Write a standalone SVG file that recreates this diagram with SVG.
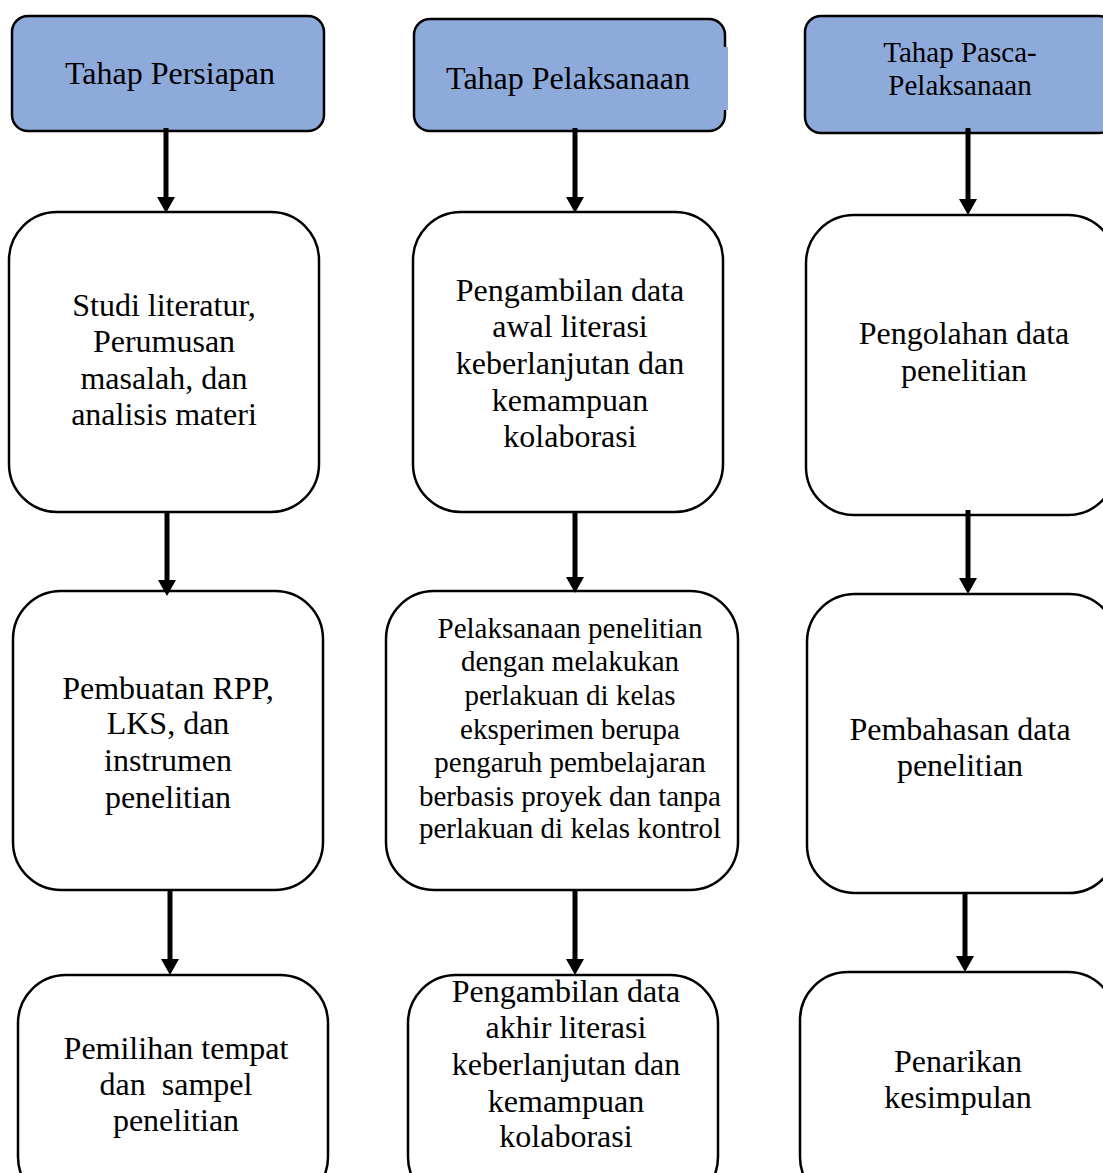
<svg xmlns="http://www.w3.org/2000/svg" width="1103" height="1173" viewBox="0 0 1103 1173">
<style>
.hdr{fill:#8eaadb;stroke:#000;stroke-width:2.5}
.box{fill:#fff;stroke:#000;stroke-width:2.5}
text{font-family:"Liberation Serif","Times New Roman",serif;fill:#000;text-anchor:middle}
.t29{font-size:32px}
.t26{font-size:29px}
.arr{stroke:#000;stroke-width:5;fill:none;marker-end:url(#ah)}
</style>
<defs>
<marker id="ah" markerUnits="userSpaceOnUse" markerWidth="18" markerHeight="18" refX="0" refY="9" orient="auto">
<path d="M0,0 L16,9 L0,18 Z" fill="#000"/>
</marker>
</defs>
<rect width="1103" height="1173" fill="#fff"/>
<g id="h1"><rect class="hdr" x="12" y="16" width="312" height="115" rx="16"/><text class="t29" x="170" y="84">Tahap Persiapan</text></g>
<g id="h2"><rect class="hdr" x="414" y="19" width="311" height="112" rx="16"/><rect x="723" y="47" width="5" height="63" fill="#8eaadb"/><text class="t29" x="568" y="89">Tahap Pelaksanaan</text></g>
<g id="h3"><rect class="hdr" x="805" y="16" width="310" height="117" rx="16"/><text class="t26" x="960" y="62">Tahap Pasca-</text><text class="t26" x="960" y="95">Pelaksanaan</text></g>
<g id="c1r1"><rect class="box" x="9" y="212" width="310" height="300" rx="48"/><text class="t29"><tspan x="164" y="316">Studi literatur,</tspan><tspan x="164" y="352">Perumusan</tspan><tspan x="164" y="389">masalah, dan</tspan><tspan x="164" y="425">analisis materi</tspan></text></g>
<g id="c2r1"><rect class="box" x="413" y="212" width="310" height="300" rx="48"/><text class="t29"><tspan x="570" y="301">Pengambilan data</tspan><tspan x="570" y="337">awal literasi</tspan><tspan x="570" y="374">keberlanjutan dan</tspan><tspan x="570" y="411">kemampuan</tspan><tspan x="570" y="447">kolaborasi</tspan></text></g>
<g id="c3r1"><rect class="box" x="806" y="215" width="310" height="300" rx="48"/><text class="t29"><tspan x="964" y="344">Pengolahan data</tspan><tspan x="964" y="381">penelitian</tspan></text></g>
<g id="c1r2"><rect class="box" x="13" y="591" width="310" height="299" rx="48"/><text class="t29"><tspan x="168" y="699">Pembuatan RPP,</tspan><tspan x="168" y="734">LKS, dan</tspan><tspan x="168" y="771">instrumen</tspan><tspan x="168" y="808">penelitian</tspan></text></g>
<g id="c2r2"><rect class="box" x="386" y="591" width="352" height="299" rx="48"/><text class="t26"><tspan x="570" y="638">Pelaksanaan penelitian</tspan><tspan x="570" y="671">dengan melakukan</tspan><tspan x="570" y="705">perlakuan di kelas</tspan><tspan x="570" y="739">eksperimen berupa</tspan><tspan x="570" y="772">pengaruh pembelajaran</tspan><tspan x="570" y="806">berbasis proyek dan tanpa</tspan><tspan x="570" y="838">perlakuan di kelas kontrol</tspan></text></g>
<g id="c3r2"><rect class="box" x="807" y="594" width="310" height="299" rx="48"/><text class="t29"><tspan x="960" y="740">Pembahasan data</tspan><tspan x="960" y="776">penelitian</tspan></text></g>
<g id="c1r3"><rect class="box" x="18" y="975" width="310" height="230" rx="48"/><text class="t29"><tspan x="176" y="1059">Pemilihan tempat</tspan><tspan x="176" y="1095" xml:space="preserve">dan  sampel</tspan><tspan x="176" y="1131">penelitian</tspan></text></g>
<g id="c2r3"><rect class="box" x="408" y="975" width="310" height="230" rx="48"/><text class="t29"><tspan x="566" y="1002">Pengambilan data</tspan><tspan x="566" y="1038">akhir literasi</tspan><tspan x="566" y="1075">keberlanjutan dan</tspan><tspan x="566" y="1112">kemampuan</tspan><tspan x="566" y="1147">kolaborasi</tspan></text></g>
<g id="c3r3"><rect class="box" x="800" y="972" width="316" height="233" rx="48"/><text class="t29"><tspan x="958" y="1072">Penarikan</tspan><tspan x="958" y="1108">kesimpulan</tspan></text></g>
<g id="connectors">
<path class="arr" d="M166,128 V197"/>
<path class="arr" d="M575,128 V197"/>
<path class="arr" d="M968,128 V199"/>
<path class="arr" d="M167,512 V580"/>
<path class="arr" d="M575,512 V577"/>
<path class="arr" d="M968,510 V578"/>
<path class="arr" d="M170,890 V959"/>
<path class="arr" d="M575,890 V959"/>
<path class="arr" d="M965,893 V956"/>
</g>
</svg>
